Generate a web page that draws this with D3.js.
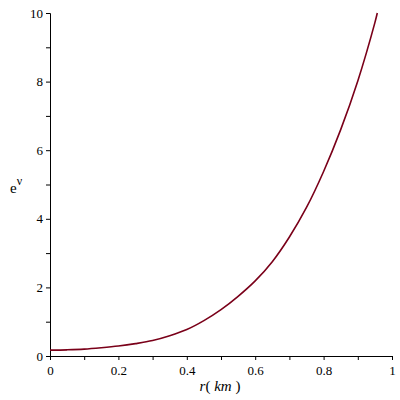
<!DOCTYPE html>
<html>
<head>
<meta charset="utf-8">
<script src="https://cdn.jsdelivr.net/npm/d3@7"></script>
<style>
  body { margin: 0; background: #ffffff; }
  svg text { font-family: "Liberation Serif", "Times New Roman", serif !important; }
</style>
</head>
<body>
<div id="chart"></div>
<script>
// radius r (km) and e^nu values
const rValues = [0, 0.05, 0.1, 0.15, 0.2, 0.25, 0.3, 0.35, 0.4, 0.45, 0.5,
                 0.55, 0.6, 0.65, 0.7, 0.75, 0.8, 0.85, 0.9, 0.95, 0.957];
const expNu = [0.17, 0.18, 0.20, 0.24, 0.29, 0.36, 0.45, 0.59, 0.77, 1.03, 1.35,
               1.74, 2.19, 2.75, 3.47, 4.33, 5.38, 6.60, 8.02, 9.72, 10];
const xTicks = [0, 0.2, 0.4, 0.6, 0.8, 1];
const xMinor = [0.1, 0.3, 0.5, 0.7, 0.9];
const yTicks = [0, 2, 4, 6, 8, 10];
const yMinor = [1, 3, 5, 7, 9];

const margin = { top: 13, right: 8, bottom: 44, left: 50 };
const width = 400 - margin.left - margin.right;
const height = 400 - margin.top - margin.bottom;

const svg = d3.select('#chart')
  .append('svg')
    .attr('width', 400)
    .attr('height', 400)
  .append('g')
    .attr('transform', 'translate(' + margin.left + ',' + margin.top + ')');

const x = d3.scaleLinear().domain([0, 1]).range([0, width]);
const y = d3.scaleLinear().domain([0, 10]).range([height, 0]);

// axes: major ticks with labels, then minor ticks without
function styleAxis(g) {
  g.attr('font-family', null);
  g.select('.domain').attr('stroke', '#000').attr('stroke-width', 1);
  g.selectAll('.tick line').attr('stroke', '#000');
  g.selectAll('.tick text')
    .style('font-size', '13px')
    .attr('fill', '#000');
}

svg.append('g')
  .attr('transform', 'translate(0,' + height + ')')
  .call(d3.axisBottom(x).tickValues(xTicks).tickSizeOuter(0).tickSize(4).tickPadding(6)
    .tickFormat(d => d === 0 || d === 1 ? d3.format('d')(d) : d3.format('.1f')(d)))
  .call(styleAxis);

svg.append('g')
  .attr('transform', 'translate(0,' + height + ')')
  .call(d3.axisBottom(x).tickValues(xMinor).tickSize(4).tickFormat(''))
  .call(g => g.select('.domain').remove());

svg.append('g')
  .call(d3.axisLeft(y).tickValues(yTicks).tickSizeOuter(0).tickSize(4).tickPadding(3)
    .tickFormat(d3.format('d')))
  .call(styleAxis);

svg.append('g')
  .call(d3.axisLeft(y).tickValues(yMinor).tickSize(4).tickFormat(''))
  .call(g => g.select('.domain').remove());

// curve
const line = d3.line()
  .x((d, i) => x(rValues[i]))
  .y(d => y(d))
  .curve(d3.curveCatmullRom);

svg.append('path')
  .datum(expNu)
  .attr('fill', 'none')
  .attr('stroke', '#7a0019')
  .attr('stroke-width', 1.6)
  .attr('d', line);

// x axis label r(km)
const xl = svg.append('text')
  .attr('x', 220 - margin.left)
  .attr('y', 391 - margin.top)
  .attr('text-anchor', 'middle')
  .style('font-size', '15px')
  .attr('fill', '#000');
xl.append('tspan').style('font-style', 'italic').text('r');
xl.append('tspan').text('( ');
xl.append('tspan').style('font-style', 'italic').text('km');
xl.append('tspan').text(' )');

// y axis label e^nu
const yl = svg.append('text')
  .attr('x', 10 - margin.left)
  .attr('y', 193 - margin.top)
  .style('font-size', '15px')
  .attr('fill', '#000');
yl.append('tspan').text('e');
yl.append('tspan').attr('dy', -8).style('font-size', '12px').text('ν');
</script>
</body>
</html>
